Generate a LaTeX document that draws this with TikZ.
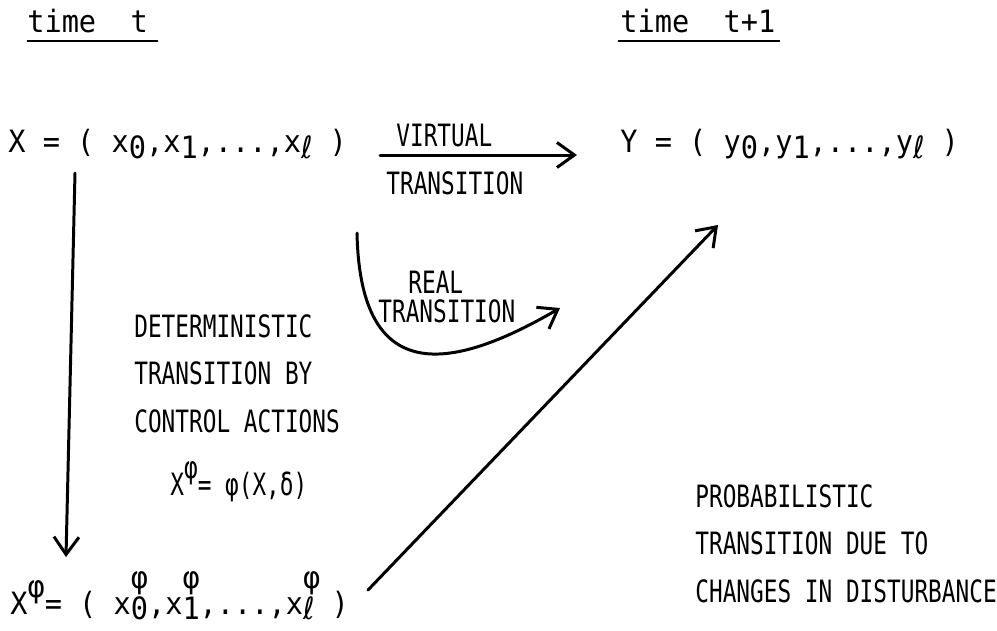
\documentclass[tikz,border=0pt]{standalone}
\usepackage{fontspec}
\usepackage{tikz}
\usetikzlibrary{arrows.meta, calc}
\newfontfamily\typefont[FakeStretch=0.93]{DejaVu Sans Mono}
\newfontfamily\labelfont[FakeStretch=0.74]{DejaVu Sans Mono}
\newfontfamily\ellfont[FakeStretch=0.9]{DejaVu Sans}
\newcommand\lo[1]{\raisebox{-0.4ex}{#1}}
\newcommand\hi[1]{\raisebox{1.0ex}{#1}}
\newcommand\hilo[2]{\rlap{\raisebox{1.5ex}{#1}}\raisebox{-0.3ex}{#2}}
\newcommand\ellx{{\ellfont ℓ}}

\begin{document}
\begin{tikzpicture}[x=0.02cm, y=-0.02cm,
    formula/.style={anchor=base west, inner sep=0pt, font=\fontsize{17.5}{20}\typefont},
    caption/.style={anchor=base west, inner sep=0pt, font=\fontsize{17.5}{20}\labelfont},
    block/.style={anchor=north west, inner sep=0pt, align=left, font=\fontsize{17.5}{27}\labelfont},
    heading/.style={anchor=base west, inner sep=0pt, font=\fontsize{17.5}{20}\typefont},
    arrow/.style={-{Straight Barb[length=3.5mm, width=5mm]}, line width=1.7pt, line cap=round},
    rule/.style={line width=1.5pt}
]
\useasboundingbox (0,0) rectangle (997,630);
\node[heading] (tnow) at (27,32) {time~~t};
\node[heading] (tnext) at (620,32) {time~~t+1};
\draw[rule] ($(tnow.base west)+(0,9)$) -- ($(tnow.base east)+(10,9)$);
\draw[rule] ($(tnext.base west)+(-2,9)$) -- ($(tnext.base east)+(4,9)$);

\node[formula] (xnow) at (8,152) {X = ( x\lo{0},x\lo{1},...,x\lo{\ellx} )};
\node[formula] (ynext) at (620,152) {Y = ( y\lo{0},y\lo{1},...,y\lo{\ellx} )};
\node[formula] (xctrl) at (10,614) {X\hi{φ}= ( x\hilo{φ}{0},x\hilo{φ}{1},...,x\hilo{φ}{\ellx} )};

\node[caption] (virtual) at (396,146) {VIRTUAL};
\node[caption] (virtual2) at (386,194) {TRANSITION};
\coordinate (vfrom) at (380,155);
\coordinate (vto) at (577,155);
\draw[arrow] (vfrom) -- (vto);

\node[caption] (real) at (408,293) {REAL};
\node[caption] (real2) at (378,322) {TRANSITION};
\coordinate (rfrom) at (357,233);
\coordinate (rto) at (560,308);
\draw[arrow] (rfrom) .. controls (360,378) and (440,378) .. (rto);

\node[block] (determ) at (134,314) {DETERMINISTIC\\TRANSITION BY\\CONTROL ACTIONS};
\node[caption] (ctrlmap) at (170,495) {X\hi{φ}= φ(X,δ)};
\coordinate (ctop) at (75,173);
\coordinate (cbot) at (66,557);
\draw[arrow] (ctop) -- (cbot);

\node[block] (probab) at (695,484) {PROBABILISTIC\\TRANSITION DUE TO\\CHANGES IN DISTURBANCE};
\coordinate (pfrom) at (368,590);
\coordinate (pto) at (718,225);
\draw[arrow] (pfrom) -- (pto);
\end{tikzpicture}
\end{document}
